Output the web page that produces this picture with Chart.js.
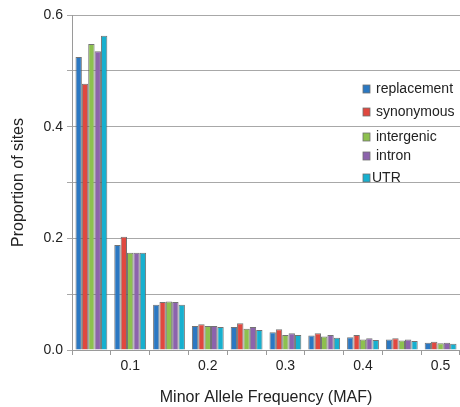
<!DOCTYPE html>
<html>
<head>
<meta charset="utf-8">
<script src="https://cdn.jsdelivr.net/npm/chart.js@4.4.0/dist/chart.umd.min.js"></script>
<style>
    html, body { margin: 0; padding: 0; background: #ffffff; }
    #wrap { width: 460px; height: 407px; position: relative; }
</style>
</head>
<body>
<div id="wrap"><canvas id="mafChart"></canvas></div>
<script>

// categories (one group per MAF bin), labelled every second bin
const mafBins = ["", "0.1", "", "0.2", "", "0.3", "", "0.4", "", "0.5"];

const seriesNames = ["replacement", "synonymous", "intergenic", "intron", "UTR"];

const replacement = [0.525, 0.188, 0.081, 0.043, 0.041, 0.032, 0.026, 0.023, 0.019, 0.013];
const synonymous  = [0.477, 0.203, 0.086, 0.046, 0.048, 0.037, 0.030, 0.027, 0.021, 0.015];
const intergenic  = [0.548, 0.174, 0.087, 0.043, 0.038, 0.027, 0.024, 0.019, 0.017, 0.012];
const intron      = [0.535, 0.174, 0.086, 0.043, 0.041, 0.030, 0.027, 0.021, 0.019, 0.013];
const utr         = [0.563, 0.174, 0.081, 0.041, 0.036, 0.027, 0.022, 0.018, 0.016, 0.011];

const yTickLabels = ["0.0", "", "0.2", "", "0.4", "", "0.6"];

const barColors = ["#2b78c2", "#e0483f", "#8dc04f", "#8c63ac", "#17b0cf"];

const fontFamily = "'Liberation Sans', Arial, sans-serif";

// legend drawn inside the plot, at the right
const insideLegend = {
    id: "insideLegend",
    afterDraw(chart) {
        const ctx = chart.ctx;
        const rowsY = [89, 112, 137, 156, 178];
        ctx.save();
        ctx.font = "14px " + fontFamily;
        ctx.textBaseline = "middle";
        chart.data.datasets.forEach((ds, i) => {
            const y = rowsY[i];
            const x = 363;
            ctx.fillStyle = ds.backgroundColor;
            ctx.fillRect(x, y - 4, 7, 8);
            ctx.strokeStyle = "#707070";
            ctx.lineWidth = 0.8;
            ctx.strokeRect(x, y - 4, 7, 8);
            ctx.fillStyle = "#222222";
            ctx.fillText(ds.label, x + (i === 4 ? 9 : 13), y);
        });
        ctx.restore();
    }
};

const datasets = [replacement, synonymous, intergenic, intron, utr].map((values, i) => {
    return {
        label: seriesNames[i],
        data: values,
        backgroundColor: barColors[i],
        borderColor: "rgba(90,90,90,0.85)",
        borderWidth: 1,
        categoryPercentage: 0.82,
        barPercentage: 1.0,
    };
});

new Chart(document.getElementById("mafChart"), {
    type: "bar",
    data: {
        labels: mafBins,
        datasets: datasets,
    },
    options: {
        responsive: true,
        maintainAspectRatio: false,
        animation: false,
        layout: {
            padding: { top: 15, right: -2, left: 0, bottom: 0 },
        },
        plugins: {
            legend: { display: false },
            tooltip: { enabled: false },
        },
        scales: {
            x: {
                grid: {
                    display: true,
                    offset: true,
                    drawOnChartArea: false,
                    drawTicks: true,
                    tickLength: 5,
                    color: "#9a9a9a",
                },
                border: { color: "#9a9a9a", width: 1 },
                ticks: {
                    autoSkip: false,
                    maxRotation: 0,
                    padding: 3,
                    color: "#222222",
                    font: { family: fontFamily, size: 14 },
                },
                title: {
                    display: true,
                    text: "Minor Allele Frequency (MAF)",
                    color: "#222222",
                    font: { family: fontFamily, size: 16 },
                    padding: { top: 9, bottom: 0 },
                },
                afterFit(scale) {
                    scale.height = 57;
                },
            },
            y: {
                min: 0,
                max: 0.6,
                grid: {
                    color: "#a8a8a8",
                    tickLength: 5,
                },
                border: { color: "#9a9a9a", width: 1 },
                ticks: {
                    stepSize: 0.1,
                    padding: 4,
                    color: "#222222",
                    font: { family: fontFamily, size: 14 },
                    callback: function(value, index) {
                        return yTickLabels[index];
                    },
                },
                title: {
                    display: true,
                    text: "Proportion of sites",
                    color: "#222222",
                    font: { family: fontFamily, size: 16 },
                    padding: { top: 9, bottom: 0 },
                },
                afterFit(scale) {
                    scale.width = 72;
                },
            },
        },
    },
    plugins: [insideLegend],
});

</script>
</body>
</html>
